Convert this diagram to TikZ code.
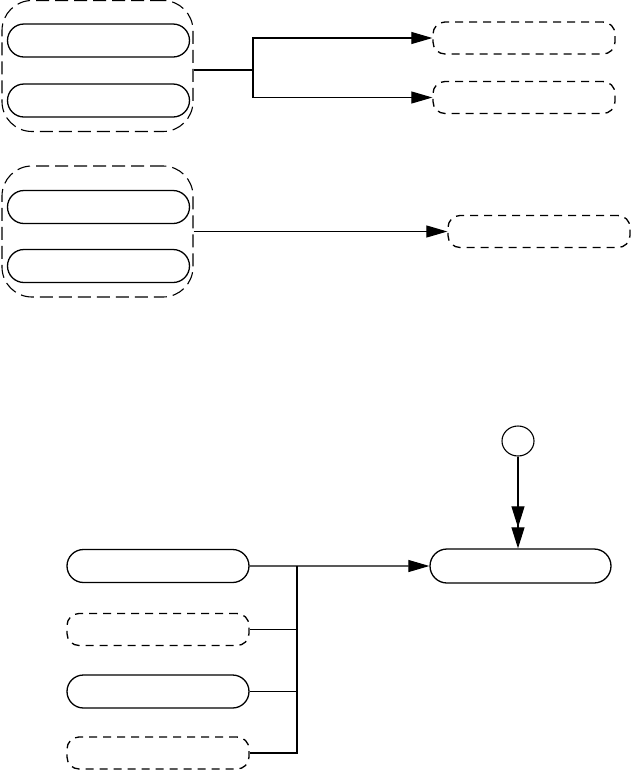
\documentclass[tikz,border=0pt]{standalone}
\usetikzlibrary{arrows.meta,shapes.misc,shapes.geometric}
\tikzset{>={Triangle[length=21pt,width=12pt]}}
\tikzset{
  pill/.style={draw,rounded rectangle,line width=1.3pt,inner sep=0pt,minimum width=182pt,minimum height=33pt},
  dpill/.style={draw,rectangle,rounded corners=12pt,line width=1.3pt,dash pattern=on 8pt off 6pt,inner sep=0pt,minimum width=182pt,minimum height=32pt},
  grp/.style={draw,rectangle,rounded corners=30pt,dash pattern=on 13pt off 6pt,inner sep=0pt,minimum width=191pt,minimum height=131pt}
}
\begin{document}
\begin{tikzpicture}[x=1pt,y=-1pt,line width=1.1pt]
\useasboundingbox (0,0) rectangle (631,772);
    \node[grp] (g1) at (97.5,66) {};
    \node[pill] (b1) at (98.5,40.5) {};
    \node[pill] (b2) at (98.5,100.5) {};
    \node[dpill] (t1) at (524,38) {};
    \node[dpill] (t2) at (524,97.5) {};
    \coordinate (k1) at (253,70);
    \draw (g1.east |- k1) -- (k1);
    \draw[->] (k1) |- (t1);
    \draw[->] (k1) |- (t2);
    \node[grp] (g2) at (97.5,231.5) {};
    \node[pill] (b3) at (98.5,207) {};
    \node[pill] (b4) at (98.5,266) {};
    \node[dpill] (t3) at (539,231.5) {};
    \draw[->] (g2) -- (t3);
    \node[pill] (b5) at (158,566) {};
    \node[dpill] (b6) at (158,629.5) {};
    \node[pill] (b7) at (158,691.5) {};
    \node[dpill] (b8) at (158,753) {};
    \node[pill,minimum width=181pt,minimum height=34pt] (t4) at (520.5,566) {};
    \node[draw,ellipse,inner sep=0pt,minimum width=32pt,minimum height=30pt] (c) at (518,441) {};
    \coordinate (k2) at (297,566);
    \draw[->] (b5) -- (t4);
    \draw (b8.east) -| (k2);
    \draw (b6.east) -- (b6.east -| k2);
    \draw (b7.east) -- (b7.east -| k2);
    \draw[-{Triangle[length=21pt,width=13pt]Triangle[length=21pt,width=13pt]}] (c) -- (c |- t4.north);
\end{tikzpicture}
\end{document}
